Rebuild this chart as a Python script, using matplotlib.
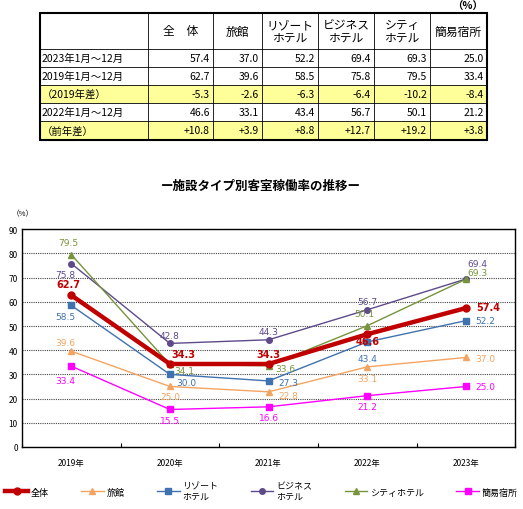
import matplotlib
matplotlib.use("Agg")
import matplotlib.pyplot as plt
from matplotlib.patches import Rectangle

plt.rcParams["font.family"] = ["Noto Sans CJK JP", "DejaVu Sans"]

# ── データ ───────────────────────────────────────────────
years = ["2019年", "2020年", "2021年", "2022年", "2023年"]
series_names = ["全体", "旅館", "リゾート\nホテル", "ビジネス\nホテル", "シティホテル", "簡易宿所"]
zentai = [62.7, 34.3, 34.3, 46.6, 57.4]
ryokan = [39.6, 25.0, 22.8, 33.1, 37.0]
resort = [58.5, 30.0, 27.3, 43.4, 52.2]
business = [75.8, 42.8, 44.3, 56.7, 69.4]
city = [79.5, 34.1, 33.6, 50.1, 69.3]
kan_i = [33.4, 15.5, 16.6, 21.2, 25.0]

table_cols = ["全　体", "旅館", "リゾート\nホテル", "ビジネス\nホテル", "シティ\nホテル", "簡易宿所"]
table_rows = ["2023年1月～12月", "2019年1月～12月", "（2019年差）", "2022年1月～12月", "（前年差）"]
table_vals = [
    ["57.4", "37.0", "52.2", "69.4", "69.3", "25.0"],
    ["62.7", "39.6", "58.5", "75.8", "79.5", "33.4"],
    ["-5.3", "-2.6", "-6.3", "-6.4", "-10.2", "-8.4"],
    ["46.6", "33.1", "43.4", "56.7", "50.1", "21.2"],
    ["+10.8", "+3.9", "+8.8", "+12.7", "+19.2", "+3.8"],
]
highlight_rows = [2, 4]

fig = plt.figure(figsize=(5.23, 5.10), dpi=100)

# ── 表 (ピクセル座標) ─────────────────────────────────────
tax = fig.add_axes([0, 0, 1, 1])
tax.set_xlim(0, 523)
tax.set_ylim(510, 0)
tax.axis("off")
col_x = [40, 148, 213, 262, 318, 374, 430, 487]
row_y = [14, 50, 68, 86, 104, 122, 141]
for r in highlight_rows:
    tax.add_patch(Rectangle((col_x[0], row_y[r + 1]), col_x[-1] - col_x[0],
                            row_y[r + 2] - row_y[r + 1], color="#FFFF99", lw=0))
for x in col_x[1:-1]:
    tax.plot([x, x], [row_y[0], row_y[-1]], color="black", lw=0.6)
for y in row_y[1:-1]:
    tax.plot([col_x[0], col_x[-1]], [y, y], color="black", lw=0.6)
tax.add_patch(Rectangle((col_x[0], row_y[0]), col_x[-1] - col_x[0], row_y[-1] - row_y[0],
                        fill=False, ec="black", lw=1.5))
tax.text(col_x[-1] - 4, 7, "（%）", ha="right", va="center", fontsize=7.5, fontweight="bold")
for j, c in enumerate(table_cols):
    tax.text((col_x[j + 1] + col_x[j + 2]) / 2, (row_y[0] + row_y[1]) / 2, c,
             ha="center", va="center", fontsize=8.5, linespacing=1.0)
for i, rname in enumerate(table_rows):
    yc = (row_y[i + 1] + row_y[i + 2]) / 2
    tax.text(col_x[0] + 2, yc, rname, ha="left", va="center", fontsize=7.5)
    for j, v in enumerate(table_vals[i]):
        tax.text(col_x[j + 2] - 3, yc, v, ha="right", va="center", fontsize=7.5)

tax.text(261, 186, "ー施設タイプ別客室稼働率の推移ー", ha="center", va="center",
         fontsize=9, fontweight="bold")
tax.text(12, 214, "（%）", ha="left", va="center", fontsize=5.5)

# ── 折れ線グラフ ─────────────────────────────────────────
ax = fig.add_axes([0.042, 0.1216, 0.943, 0.427])
xs = [i + 0.5 for i in range(len(years))]

styles = [
    (zentai, "#C00000", "o", 3.2, 5, True),
    (ryokan, "#F4A460", "^", 1.0, 4, False),
    (resort, "#3F72AF", "s", 1.0, 4, False),
    (business, "#5E4A8A", "o", 1.0, 4, False),
    (city, "#77933C", "^", 1.0, 5, False),
    (kan_i, "#FF00FF", "s", 1.0, 4, False),
]
# ラベル位置オフセット (pt)
offsets = [
    [(-2, 8), (10, 7), (0, 7), (0, -5), (16, 1)],
    [(-4, 6), (0, -7), (14, -3), (0, -8), (14, -1)],
    [(-4, -8), (12, -6), (14, -1), (0, -12), (14, 0)],
    [(-4, -8), (0, 6), (0, 6), (0, 6), (8, 11)],
    [(-2, 9), (10, -4), (12, -2), (-2, 9), (8, 5)],
    [(-4, -10), (0, -8), (0, -8), (0, -8), (14, 0)],
]

for (vals, col, mk, lw, ms, bold), name, offs in zip(styles, series_names, offsets):
    ax.plot(xs, vals, color=col, marker=mk, lw=lw, ms=ms, label=name, zorder=4 if bold else 3)
    for x, v, (dx, dy) in zip(xs, vals, offs):
        ax.annotate(f"{v:.1f}", (x, v), xytext=(dx, dy), textcoords="offset points",
                    ha="center", va="center", color=col, fontsize=6.5 if not bold else 7,
                    fontweight="bold" if bold else "normal",
                    family=["DejaVu Sans"], zorder=5 if bold else 4)

ax.set_xlim(0, 5)
ax.set_ylim(0, 90)
ax.set_yticks(range(0, 91, 10))
ax.set_xticks(range(0, 6))
ax.set_xticklabels([])
ax.set_xticks(xs, minor=True)
ax.set_xticklabels(years, minor=True, fontsize=6)
ax.tick_params(axis="x", which="minor", length=0, pad=8)
ax.tick_params(axis="x", which="major", length=3, direction="in")
ax.tick_params(axis="y", labelsize=6, length=0, pad=3)
ax.grid(axis="y", color="#444444", ls=(0, (1, 1)), lw=0.8)
for s in ax.spines.values():
    s.set_linewidth(1.0)

fig.legend(loc="center", bbox_to_anchor=(0.5, 0.035), ncol=6, frameon=False,
           fontsize=6.5, handlelength=2.5, columnspacing=3.6, handletextpad=0.3)

fig.savefig("out.png", dpi=100)
